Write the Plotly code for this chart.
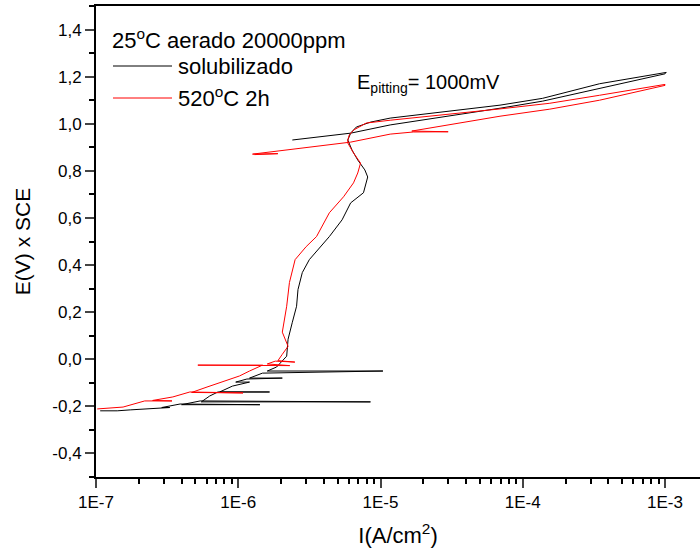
import plotly.graph_objects as go

# ---- data: solubilizado (black) ----
sol_I = [1.07e-7, 1.41e-7, 1.74e-7, 2.82e-7, 3.3e-7, 2.9e-7, 3.9e-7, 1.42e-6, 4.0e-7,
         5.4e-7, 8.5e-6, 5.5e-7, 6.3e-7, 7.2e-7, 1.66e-6, 7.4e-7, 9.1e-7, 1.2e-6, 9.6e-7,
         1.15e-6, 2.04e-6, 1.2e-6, 1.48e-6, 1.04e-5, 1.6e-6, 1.86e-6, 2.19e-6, 2.24e-6,
         2.40e-6, 2.57e-6, 2.63e-6, 2.82e-6, 3.16e-6, 3.63e-6, 4.37e-6, 5.37e-6, 6.17e-6,
         7.59e-6, 8.13e-6, 7.76e-6, 6.92e-6, 6.31e-6, 5.89e-6, 6.17e-6, 6.76e-6, 8.51e-6,
         1.17e-5, 6.92e-5, 1.38e-4, 3.47e-4, 1.02e-3,
         1.0e-3, 3.47e-4, 1.38e-4, 6.92e-5, 1.17e-5, 6.17e-6, 2.40e-6]
sol_E = [-0.219, -0.219, -0.215, -0.207, -0.205, -0.205, -0.190, -0.193, -0.193,
         -0.177, -0.181, -0.181, -0.156, -0.139, -0.139, -0.139, -0.114, -0.097, -0.097,
         -0.084, -0.080, -0.080, -0.059, -0.050, -0.050, -0.033, 0.013, 0.085,
         0.157, 0.225, 0.296, 0.368, 0.423, 0.466, 0.521, 0.592, 0.664,
         0.707, 0.774, 0.804, 0.846, 0.888, 0.931, 0.960, 0.986, 1.007,
         1.024, 1.079, 1.108, 1.170, 1.218,
         1.212, 1.151, 1.096, 1.066, 0.995, 0.960, 0.931]

# ---- data: 520 C 2h (red) ----
t520_I = [1.02e-7, 1.55e-7, 2.2e-7, 3.42e-7, 2.5e-7, 3.47e-7, 4.57e-7, 1.08e-6, 4.7e-7,
          6.03e-7, 7.76e-7, 1.02e-6, 1.20e-6, 1.48e-6, 5.2e-7, 2.3e-6, 1.6e-6,
          1.82e-6, 2.5e-6, 1.9e-6, 2.04e-6, 2.24e-6, 2.04e-6, 2.19e-6, 2.29e-6, 2.51e-6,
          3.0e-6, 3.55e-6, 4.37e-6, 5.50e-6, 6.46e-6, 6.92e-6, 7.24e-6, 6.46e-6, 5.89e-6,
          5.89e-6, 6.03e-6, 6.46e-6, 7.94e-6, 1.17e-5, 6.92e-5, 1.55e-4, 3.47e-4, 1.0e-3,
          1.0e-3, 3.47e-4, 1.55e-4, 6.92e-5, 1.66e-5, 2.99e-5, 1.7e-5, 1.17e-5, 6.17e-6,
          2.04e-6, 1.26e-6, 1.9e-6, 1.3e-6]
t520_E = [-0.211, -0.203, -0.177, -0.177, -0.175, -0.160, -0.139, -0.143, -0.141,
          -0.118, -0.097, -0.071, -0.050, -0.025, -0.025, -0.027, -0.020,
          -0.008, -0.012, -0.006, 0.021, 0.055, 0.115, 0.225, 0.326, 0.423,
          0.478, 0.521, 0.622, 0.690, 0.749, 0.791, 0.833, 0.876, 0.918,
          0.931, 0.952, 0.973, 1.003, 1.015, 1.063, 1.087, 1.121, 1.167,
          1.163, 1.100, 1.062, 1.032, 0.969, 0.966, 0.965, 0.956, 0.922,
          0.888, 0.871, 0.873, 0.869]

y_ticks = [-0.4, -0.2, 0.0, 0.2, 0.4, 0.6, 0.8, 1.0, 1.2, 1.4]
y_labels = ["-0,4", "-0,2", "0,0", "0,2", "0,4", "0,6", "0,8", "1,0", "1,2", "1,4"]
x_ticks = [1e-7, 1e-6, 1e-5, 1e-4, 1e-3]
x_labels = ["1E-7", "1E-6", "1E-5", "1E-4", "1E-3"]
x_minor = [k * 10.0 ** n for n in range(-7, -2) for k in range(2, 10)]

FONT = "Arial, Liberation Sans, Helvetica, sans-serif"

fig = go.Figure()
fig.add_trace(go.Scatter(x=sol_I, y=sol_E, mode="lines", name="solubilizado",
                         line=dict(color="black", width=1)))
fig.add_trace(go.Scatter(x=t520_I, y=t520_E, mode="lines", name="520<sup>o</sup>C 2h",
                         line=dict(color="red", width=1)))

W, H = 700, 556
L, R, T, B = 96, 0, 6, 79
pw, ph = W - L - R, H - T - B
def px(x):
    return (x - L) / pw
def py(y):
    return 1 - (y - T) / ph

# manual legend
fig.add_annotation(x=px(110), y=py(39), xref="paper", yref="paper",
                   text="25<sup>o</sup>C aerado 20000ppm", showarrow=False,
                   xanchor="left", yanchor="middle", font=dict(size=22, family=FONT, color="black"))
fig.add_shape(type="line", xref="paper", yref="paper", x0=px(113), x1=px(172),
              y0=py(66), y1=py(66), line=dict(color="black", width=1))
fig.add_annotation(x=px(176), y=py(67), xref="paper", yref="paper",
                   text="solubilizado", showarrow=False,
                   xanchor="left", yanchor="middle", font=dict(size=22, family=FONT, color="black"))
fig.add_shape(type="line", xref="paper", yref="paper", x0=px(113), x1=px(172),
              y0=py(98), y1=py(98), line=dict(color="red", width=1))
fig.add_annotation(x=px(176), y=py(97), xref="paper", yref="paper",
                   text="520<sup>o</sup>C 2h", showarrow=False,
                   xanchor="left", yanchor="middle", font=dict(size=22, family=FONT, color="black"))
fig.add_annotation(x=px(355), y=py(84), xref="paper", yref="paper",
                   text="E<sub>pitting</sub>= 1000mV", showarrow=False,
                   xanchor="left", yanchor="middle", font=dict(size=20, family=FONT, color="black"))

fig.update_layout(
    width=W, height=H,
    margin=dict(l=L, r=R, t=T, b=B),
    paper_bgcolor="white", plot_bgcolor="white",
    showlegend=False,
    font=dict(family=FONT, size=17, color="black"),
    xaxis=dict(type="log", range=[-7, -2.754], tickmode="array", tickvals=x_ticks,
               ticktext=x_labels, ticks="outside", ticklen=9, tickwidth=1.5,
               showline=True, linecolor="black", linewidth=2, mirror=True,
               showgrid=False, zeroline=False, automargin=False,
               minor=dict(tickmode="array", tickvals=x_minor, ticks="outside",
                          ticklen=5, tickwidth=1.5, tickcolor="black", showgrid=False),
               title=dict(text="I(A/cm<sup>2</sup>)", font=dict(size=22), standoff=16)),
    yaxis=dict(range=[-0.5, 1.5], tickmode="array", tickvals=y_ticks, ticktext=y_labels,
               ticks="outside", ticklen=9, tickwidth=1.5,
               showline=True, linecolor="black", linewidth=2,
               showgrid=False, zeroline=False, automargin=False,
               minor=dict(dtick=0.1, tick0=0, ticks="outside", ticklen=5, tickwidth=1.5,
                          tickcolor="black", showgrid=False),
               title=dict(text="E(V) x SCE", font=dict(size=21), standoff=16)),
)

fig.write_html("out.html", config={"displayModeBar": False})

# remove the browser's default page margin so the figure fills the window exactly
with open("out.html", "r", encoding="utf-8") as f:
    html = f.read()
html = html.replace("<head>", "<head><style>html,body{margin:0;padding:0;overflow:hidden;}</style>", 1)
with open("out.html", "w", encoding="utf-8") as f:
    f.write(html)
